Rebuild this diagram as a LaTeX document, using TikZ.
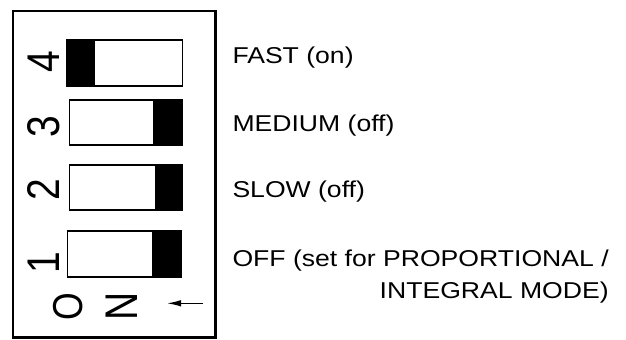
\documentclass[tikz,border=0pt]{standalone}
\usepackage{fontspec}
\setmainfont{Liberation Sans}
\newfontfamily\labelfont{Liberation Sans}[FakeStretch=1.16]
\newfontfamily\digitfont{Liberation Sans}[FakeStretch=0.85]
\usetikzlibrary{arrows.meta}

\tikzset{
	switchbox/.style={draw, line width=1.2bp, fill=white},
	lever/.style={draw, fill=black, line width=1.2bp},
	setting/.style={inner sep=0pt, font=\labelfont\fontsize{23}{28}\selectfont},
	switchno/.style={inner sep=0pt, rotate=90, anchor=base, font=\digitfont\fontsize{46}{46}\selectfont}
}

\begin{document}
\begin{tikzpicture}[x=1bp,y=-1bp]
	\useasboundingbox (0,0) rectangle (626,339);
	
	%The housing
	\draw[line width=2.5bp] (13,11.2) rectangle (215.5,337.5);
	
	%Switch 4 (on)
	\draw[switchbox] (67,40) rectangle (182.3,86);
	\draw[lever] (67,40) rectangle (94.5,86);
	%Switch 3 (off)
	\draw[switchbox] (69.3,100) rectangle (182.3,145);
	\draw[lever] (154,100) rectangle (182.3,145);
	%Switch 2 (off)
	\draw[switchbox] (69.3,165) rectangle (182,210);
	\draw[lever] (155.3,165) rectangle (182,210);
	%Switch 1 (off)
	\draw[switchbox] (67.7,231) rectangle (181,277);
	\draw[lever] (152.3,231) rectangle (181,277);
	
	%Numbers
	\draw node[switchno] (no4) at (59.7,62) {4};
	\draw node[switchno] (no3) at (59.7,126.5) {3};
	\draw node[switchno] (no2) at (59.7,190) {2};
	\draw node[switchno] (no1) at (59.7,262.5) {1};
	
	%ON marking and arrow
	\draw node[switchno, font=\digitfont\fontsize{42}{42}\selectfont] (ono) at (82,306.3) {O};
	\draw node[switchno] (onn) at (137.5,306.5) {N};
	\coordinate (arrtail) at (203,303.3);
	\coordinate (arrtip) at (167,303.3);
	\draw[line width=1.3bp, -{Latex[length=14bp,width=6.5bp]}] (arrtail) -- (arrtip);
	
	%Settings
	\draw node[setting, anchor=base west] (fast) at (232.3,63.3) {FAST (on)};
	\draw node[setting, anchor=base west] (medium) at (232.3,131) {MEDIUM (off)};
	\draw node[setting, anchor=base west] (slow) at (232.3,197.7) {SLOW (off)};
	\draw node[setting, anchor=base west] (off) at (232.3,266.7) {OFF (set for PROPORTIONAL /};
	\draw node[setting, anchor=base east] (mode) at (off.base east |- 0,298.3) {INTEGRAL MODE)};

\end{tikzpicture}
\end{document}
